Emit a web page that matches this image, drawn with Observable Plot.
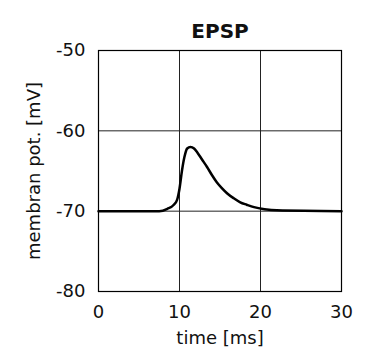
<!DOCTYPE html>
<html><head><meta charset="utf-8">
<script src="https://cdn.jsdelivr.net/npm/d3@7"></script>
<script src="https://cdn.jsdelivr.net/npm/@observablehq/plot@0.6"></script>
<style>body{margin:0;background:#fff}</style>
</head><body><div id="chart"></div>
<script>
const title = "EPSP";
const xLabel = "time [ms]";
const yLabel = "membran pot. [mV]";
const xTicks = [0, 10, 20, 30];
const yTicks = [-80, -70, -60, -50];
const timeMs =      [0,   7.5, 8.5,   9.3,   9.7,   10.0,  10.3,  10.6,  10.95, 11.35, 11.8,  12.2,  12.8,  13.4,  14.0,  14.6,  15.2,  15.9,  16.7,  17.5,  18.3,  19.2,  20.5,   22,    30];
const potentialMv = [-70, -70, -69.7, -69.2, -68.6, -67.2, -65.0, -63.3, -62.2, -62.0, -62.2, -62.7, -63.6, -64.5, -65.5, -66.4, -67.1, -67.8, -68.4, -68.9, -69.2, -69.5, -69.75, -69.9, -70];
const data = timeMs.map((t, i) => ({t, v: potentialMv[i]}));

const chart = Plot.plot({
  width: 369, height: 350,
  marginLeft: 98, marginRight: 28, marginTop: 50, marginBottom: 59,
  style: {fontFamily: "DejaVu Sans", fontSize: "18px", color: "#111", background: "#fff", overflow: "visible"},
  x: {domain: [0, 30], label: null},
  y: {domain: [-80, -50], label: null},
  marks: [
    Plot.gridX(xTicks, {stroke: "#222", strokeOpacity: 1, strokeWidth: 1}),
    Plot.gridY(yTicks, {stroke: "#222", strokeOpacity: 1, strokeWidth: 1}),
    Plot.frame({stroke: "#000", strokeWidth: 1.2}),
    Plot.axisX(xTicks, {tickSize: 0, tickPadding: 14, fontSize: 18, tickFormat: d => String(d), label: xLabel, labelAnchor: "center", labelArrow: false, labelOffset: 52}),
    Plot.axisY(yTicks, {tickSize: 0, tickPadding: 13, fontSize: 18, tickFormat: d => String(d), label: yLabel, labelAnchor: "center", labelArrow: false, labelOffset: 71}),
    Plot.line(data, {x: "t", y: "v", stroke: "#000", strokeWidth: 2.5, curve: "monotone-x"}),
    Plot.text([title], {frameAnchor: "top", dy: -27, fontSize: 20, fontWeight: "bold", letterSpacing: 1})
  ]
});
document.getElementById("chart").append(chart);
</script>
</body></html>
